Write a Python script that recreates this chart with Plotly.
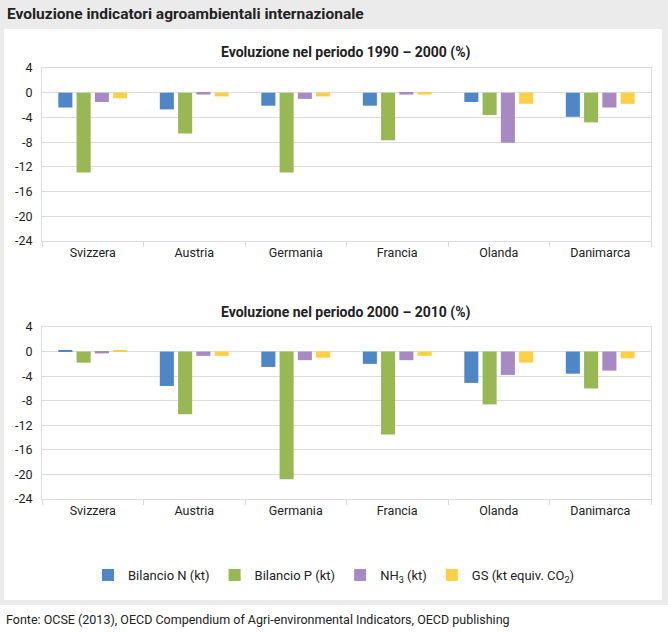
import plotly.graph_objects as go
from plotly.subplots import make_subplots

W, H = 668, 632
FONT = "Liberation Sans Narrow, Roboto, Arial Narrow, sans-serif"

countries = ["Svizzera", "Austria", "Germania", "Francia", "Olanda", "Danimarca"]
series_names = ["Bilancio N (kt)", "Bilancio P (kt)", "NH<sub>3</sub> (kt)", "GS (kt equiv. CO<sub>2</sub>)"]
colors = ["#4F87C6", "#97B852", "#A78AC3", "#FFD043"]

# Evoluzione 1990 - 2000 (%)
n_1990_2000 = [-2.4, -2.7, -2.1, -2.1, -1.5, -3.9]
p_1990_2000 = [-12.9, -6.6, -12.9, -7.7, -3.6, -4.8]
nh3_1990_2000 = [-1.5, -0.3, -1.0, -0.3, -8.1, -2.4]
gs_1990_2000 = [-0.9, -0.6, -0.6, -0.3, -1.8, -1.8]

# Evoluzione 2000 - 2010 (%)
n_2000_2010 = [0.2, -5.6, -2.5, -2.0, -5.1, -3.6]
p_2000_2010 = [-1.8, -10.2, -20.8, -13.5, -8.6, -6.0]
nh3_2000_2010 = [-0.3, -0.7, -1.4, -1.4, -3.8, -3.1]
gs_2000_2010 = [0.2, -0.7, -1.0, -0.7, -1.8, -1.1]

y_ticks = [4, 0, -4, -8, -12, -16, -20, -24]
y_tick_labels = ["4", "0", "-4", "-8", "-12", "-16", "-20", "-24"]

panel_titles = ["Evoluzione nel periodo 1990 – 2000 (%)", "Evoluzione nel periodo 2000 – 2010 (%)"]
main_title = "Evoluzione indicatori agroambientali internazionale"
source = "Fonte: OCSE (2013), OECD Compendium of Agri-environmental Indicators, OECD publishing"

data_top = [n_1990_2000, p_1990_2000, nh3_1990_2000, gs_1990_2000]
data_bot = [n_2000_2010, p_2000_2010, nh3_2000_2010, gs_2000_2010]

fig = make_subplots(rows=2, cols=1)

for i in range(4):
    fig.add_trace(go.Bar(x=countries, y=data_top[i], name=series_names[i],
                         marker=dict(color=colors[i], line=dict(width=0)),
                         legendgroup=str(i), showlegend=True), row=1, col=1)
    fig.add_trace(go.Bar(x=countries, y=data_bot[i], name=series_names[i],
                         marker=dict(color=colors[i], line=dict(width=0)),
                         legendgroup=str(i), showlegend=False), row=2, col=1)

px = lambda v: v / W
py = lambda v: 1 - v / H

xdom = [px(42), px(651)]
fig.update_layout(
    xaxis=dict(domain=xdom, anchor="y"),
    yaxis=dict(domain=[py(241), py(68)], anchor="x"),
    xaxis2=dict(domain=xdom, anchor="y2"),
    yaxis2=dict(domain=[py(499), py(327)], anchor="x2"),
)

grid = "#DCDCDC"
for ax in ["xaxis", "xaxis2"]:
    fig.layout[ax].update(showline=True, linecolor=grid, linewidth=1, mirror=True,
                          showgrid=False, ticks="outside", tickson="boundaries",
                          ticklen=5, tickcolor=grid, tickfont=dict(size=12.5, color="#222"),
                          automargin=False, fixedrange=True)
for ax in ["yaxis", "yaxis2"]:
    fig.layout[ax].update(range=[-24, 4], tickvals=y_ticks, ticktext=y_tick_labels,
                          showline=True, linecolor=grid,
                          linewidth=1, mirror=True, showgrid=True, gridcolor=grid,
                          gridwidth=1, zeroline=False, ticks="", ticklabelstandoff=6,
                          automargin=False, tickfont=dict(size=12.5, color="#222"))

shapes = [
    dict(type="rect", xref="paper", yref="paper", x0=0, x1=1, y0=py(605), y1=1,
         fillcolor="#EBEBEB", line=dict(width=0), layer="below"),
    dict(type="rect", xref="paper", yref="paper", x0=px(4), x1=px(662), y0=py(600), y1=py(29),
         fillcolor="white", line=dict(width=0), layer="below"),
]

annotations = [
    dict(text="<b>" + main_title + "</b>", x=px(5), y=py(14), xref="paper", yref="paper",
         xanchor="left", yanchor="middle", showarrow=False, font=dict(size=15.5, color="#222")),
    dict(text="<b>" + panel_titles[0] + "</b>", x=px(346), y=py(52), xref="paper", yref="paper",
         xanchor="center", yanchor="middle", showarrow=False, font=dict(size=14, color="#222")),
    dict(text="<b>" + panel_titles[1] + "</b>", x=px(346), y=py(312), xref="paper", yref="paper",
         xanchor="center", yanchor="middle", showarrow=False, font=dict(size=14, color="#222")),
    dict(text=source, x=px(4), y=py(619), xref="paper", yref="paper",
         xanchor="left", yanchor="middle", showarrow=False, font=dict(size=12.5, color="#222")),
]

fig.update_layout(
    width=W, height=H, margin=dict(l=0, r=0, t=0, b=0, autoexpand=False),
    paper_bgcolor="white", plot_bgcolor="white",
    font=dict(family=FONT, size=13, color="#222"),
    barmode="group", bargap=0.28, bargroupgap=0.23,
    shapes=shapes, annotations=annotations,
    legend=dict(orientation="h", x=0.5, xanchor="center", y=py(575), yanchor="middle",
                bgcolor="rgba(0,0,0,0)", font=dict(size=13, color="#222"),
                itemwidth=30, traceorder="normal"),
)

fig.write_html("out.html", config={"displayModeBar": False},
               post_script="document.body.style.margin='0px';")
